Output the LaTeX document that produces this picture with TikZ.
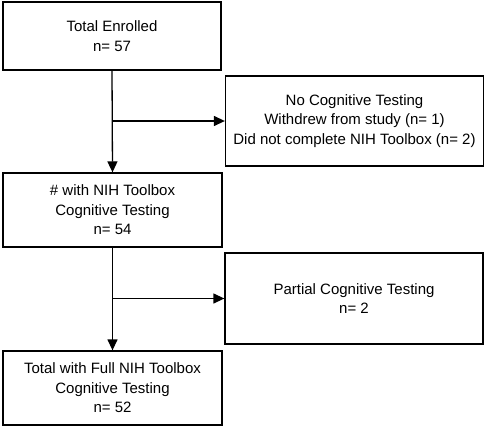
\documentclass[tikz,border=0pt]{standalone}
\usepackage{fontspec}
\setmainfont{Liberation Sans}
\usetikzlibrary{arrows.meta,positioning}
\tikzset{
  flowbox/.style={draw, line width=1.3pt, align=center, inner sep=0pt,
    font=\fontsize{15}{19.5}\selectfont},
  flowarrow/.style={line width=1.3pt, -{Triangle[length=11pt,width=10pt]}}
}
\begin{document}
\begin{tikzpicture}[x=1pt, y=-1pt]
\useasboundingbox (0,0) rectangle (486,428);
% main column
\node[flowbox, minimum width=218pt, minimum height=68pt] (enrolled) at (112,36) {Total Enrolled\\n= 57};
\node[flowbox, minimum width=219pt, minimum height=74pt] (toolbox) at (112.5,210) {\# with NIH Toolbox\\Cognitive Testing\\n= 54};
\node[flowbox, minimum width=219pt, minimum height=74pt] (full) at (112.5,388) {Total with Full NIH Toolbox\\Cognitive Testing\\n= 52};
% exclusions
\node[flowbox, minimum width=258pt, minimum height=90pt] (notest) at (354.5,121) {No Cognitive Testing\\Withdrew from study (n= 1)\\Did not complete NIH Toolbox (n= 2)};
\node[flowbox, minimum width=258pt, minimum height=91pt] (partial) at (354,298.5) {Partial Cognitive Testing\\n= 2};
\coordinate (split1) at (enrolled.south |- notest.west);
\coordinate (split2) at (toolbox.south |- partial.west);
\draw[flowarrow] (enrolled.south) -- (toolbox.north);
\draw[flowarrow] (split1) -- (notest.west);
\draw[flowarrow] (toolbox.south) -- (full.north);
\draw[flowarrow] (split2) -- (partial.west);
\end{tikzpicture}
\end{document}
